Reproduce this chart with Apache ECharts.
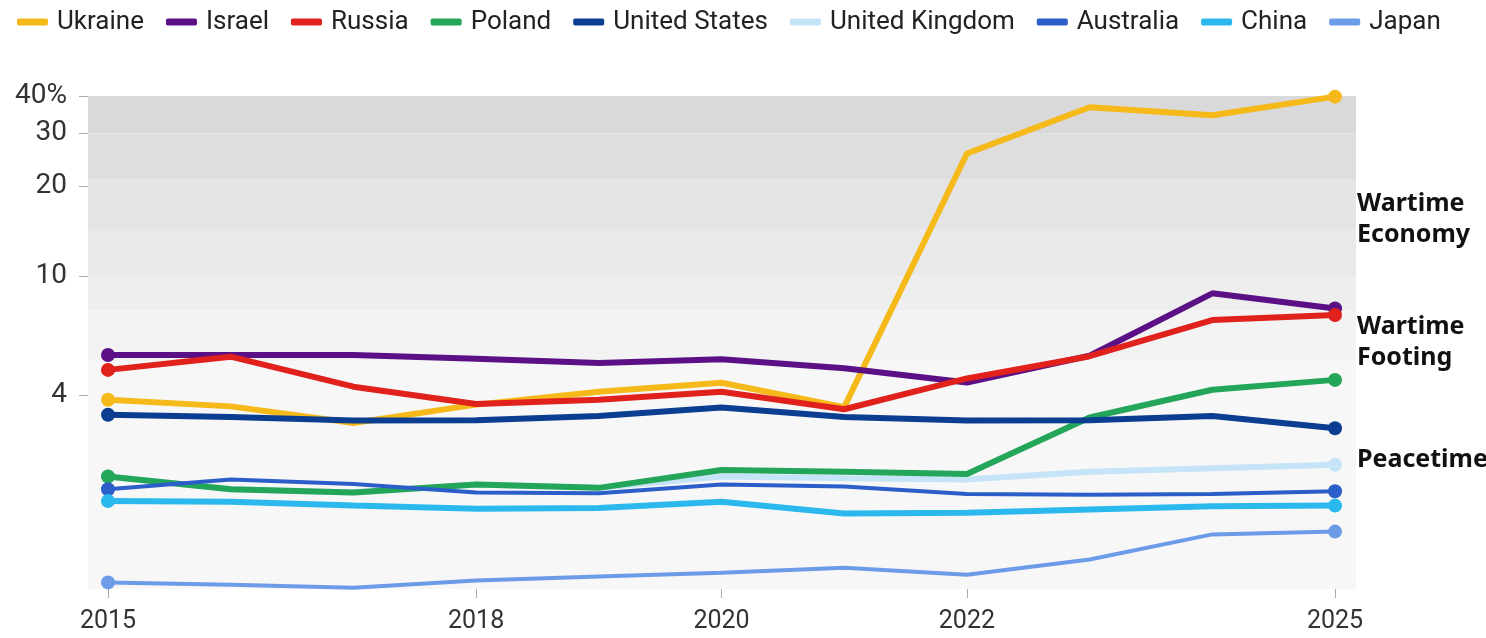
<!DOCTYPE html>
<html>
<head>
<meta charset="utf-8">
<title>Military spending, % of GDP</title>
<script src="https://cdn.jsdelivr.net/npm/echarts@6/dist/echarts.min.js"></script>
<style>
  html, body { margin: 0; padding: 0; background: #fff; }
  #chart { width: 1486px; height: 638px; }
</style>
</head>
<body>
<div id="chart"></div>
<script>
// values (% of GDP, log scale)
const years = [2015, 2016, 2017, 2018, 2019, 2020, 2021, 2022, 2023, 2024, 2025]
const ukraine = [3.86, 3.67, 3.23, 3.72, 4.11, 4.40, 3.65, 25.7, 36.7, 34.5, 39.8]
const israel = [5.45, 5.45, 5.45, 5.29, 5.12, 5.27, 4.92, 4.41, 5.42, 8.76, 7.8]
const russia = [4.86, 5.38, 4.27, 3.74, 3.86, 4.11, 3.59, 4.55, 5.4, 7.13, 7.41]
const poland = [2.14, 1.94, 1.89, 2.01, 1.96, 2.25, 2.22, 2.18, 3.37, 4.17, 4.5]
const unitedStates = [3.44, 3.38, 3.29, 3.3, 3.41, 3.64, 3.38, 3.29, 3.3, 3.41, 3.1]
const unitedKingdom = [2.14, 1.94, 1.89, 2.01, 1.96, 2.14, 2.11, 2.09, 2.22, 2.28, 2.34]
const australia = [1.94, 2.09, 2.02, 1.89, 1.88, 2.01, 1.98, 1.87, 1.86, 1.87, 1.91]
const china = [1.77, 1.76, 1.71, 1.67, 1.68, 1.76, 1.61, 1.62, 1.66, 1.7, 1.71]
const japan = [0.947, 0.93, 0.908, 0.96, 0.99, 1.02, 1.06, 1.005, 1.13, 1.37, 1.40]

const yTicks = [4, 10, 20, 30, 40]
const xTicks = [2015, 2018, 2020, 2022, 2025]
// shaded background bands (upper and lower edge of each)
const bandEdges = [40, 30, 21, 14.3, 10, 7.7, 5.2, 0.9]
const bandColors = ['#d9d9d9', '#dedede', '#e4e4e4', '#e9e9e9', '#eeeeee', '#f3f3f3', '#f7f7f7']

const seriesDefs = [
    { name: 'Ukraine', data: ukraine, color: '#f6b91a', width: 6 },
    { name: 'Israel', data: israel, color: '#5b1185', width: 6 },
    { name: 'Russia', data: russia, color: '#e0211c', width: 6 },
    { name: 'Poland', data: poland, color: '#23a55a', width: 6 },
    { name: 'United States', data: unitedStates, color: '#0b3e91', width: 6 },
    { name: 'United Kingdom', data: unitedKingdom, color: '#c6e4f7', width: 6, z: 1 },
    { name: 'Australia', data: australia, color: '#2c5ec9', width: 4 },
    { name: 'China', data: china, color: '#2bb8ec', width: 6 },
    { name: 'Japan', data: japan, color: '#6c9be8', width: 4 }
]

let myChart = echarts.init(document.getElementById('chart'))

let bands = []
for (let i = 0; i < bandColors.length; i++) {
    bands.push([{ yAxis: bandEdges[i], itemStyle: { color: bandColors[i] } }, { yAxis: bandEdges[i + 1] }])
}

let seriesData = [{
    name: 'bg', type: 'line', data: [], z: 0, silent: true,
    markArea: { silent: true, data: bands }
}]
seriesDefs.forEach(s => {
    let last = s.data.length - 1
    seriesData.push({
        name: s.name,
        type: 'line',
        z: s.z || 2,
        data: years.map((y, i) => [y, s.data[i]]),
        showAllSymbol: true,
        symbol: 'circle',
        symbolSize: (v, p) => (p.dataIndex === 0 || p.dataIndex === last) ? 14 : 0,
        lineStyle: { color: s.color, width: s.width },
        itemStyle: { color: s.color },
        emphasis: { disabled: true }
    })
})

let option = {
    animation: false,
    grid: { left: 88, right: 130, top: 96, bottom: 49, containLabel: false },
    legend: {
        left: 12,
        top: 4,
        icon: 'roundRect',
        itemWidth: 31,
        itemHeight: 7,
        itemGap: 22,
        data: seriesDefs.map(s => s.name),
        textStyle: { fontFamily: 'Roboto', fontSize: 26, color: '#222', padding: [0, 0, 0, 4] }
    },
    xAxis: {
        type: 'value',
        min: 2014.837,
        max: 2025.171,
        axisLine: { show: false },
        splitLine: { show: false },
        axisTick: { show: true, customValues: xTicks, length: 9, lineStyle: { color: '#aaa' } },
        axisLabel: {
            customValues: xTicks,
            margin: 20,
            fontFamily: 'Roboto', fontSize: 25, color: '#333',
            formatter: v => String(v)
        }
    },
    yAxis: {
        type: 'log',
        logBase: 10,
        min: 0.9,
        max: 40,
        axisLine: { show: false },
        splitLine: { show: false },
        axisTick: { show: true, customValues: yTicks, length: 9, lineStyle: { color: '#aaa' } },
        axisLabel: {
            customValues: yTicks,
            margin: 21,
            fontFamily: 'Roboto', fontSize: 28, color: '#333',
            formatter: v => Math.round(v) === 40 ? '40%' : String(Math.round(v))
        }
    },
    graphic: [
        { type: 'text', left: 1357, top: 188, style: { text: 'Wartime\nEconomy', font: 'bold 25px "Noto Sans"', lineHeight: 31, fill: '#111' } },
        { type: 'text', left: 1357, top: 311, style: { text: 'Wartime\nFooting', font: 'bold 25px "Noto Sans"', lineHeight: 31, fill: '#111' } },
        { type: 'text', left: 1357, top: 444, style: { text: 'Peacetime', font: 'bold 25px "Noto Sans"', lineHeight: 31, fill: '#111' } }
    ],
    series: seriesData
}
myChart.setOption(option)
window.addEventListener('resize', function() {
    myChart.resize()
})
</script>
</body>
</html>
